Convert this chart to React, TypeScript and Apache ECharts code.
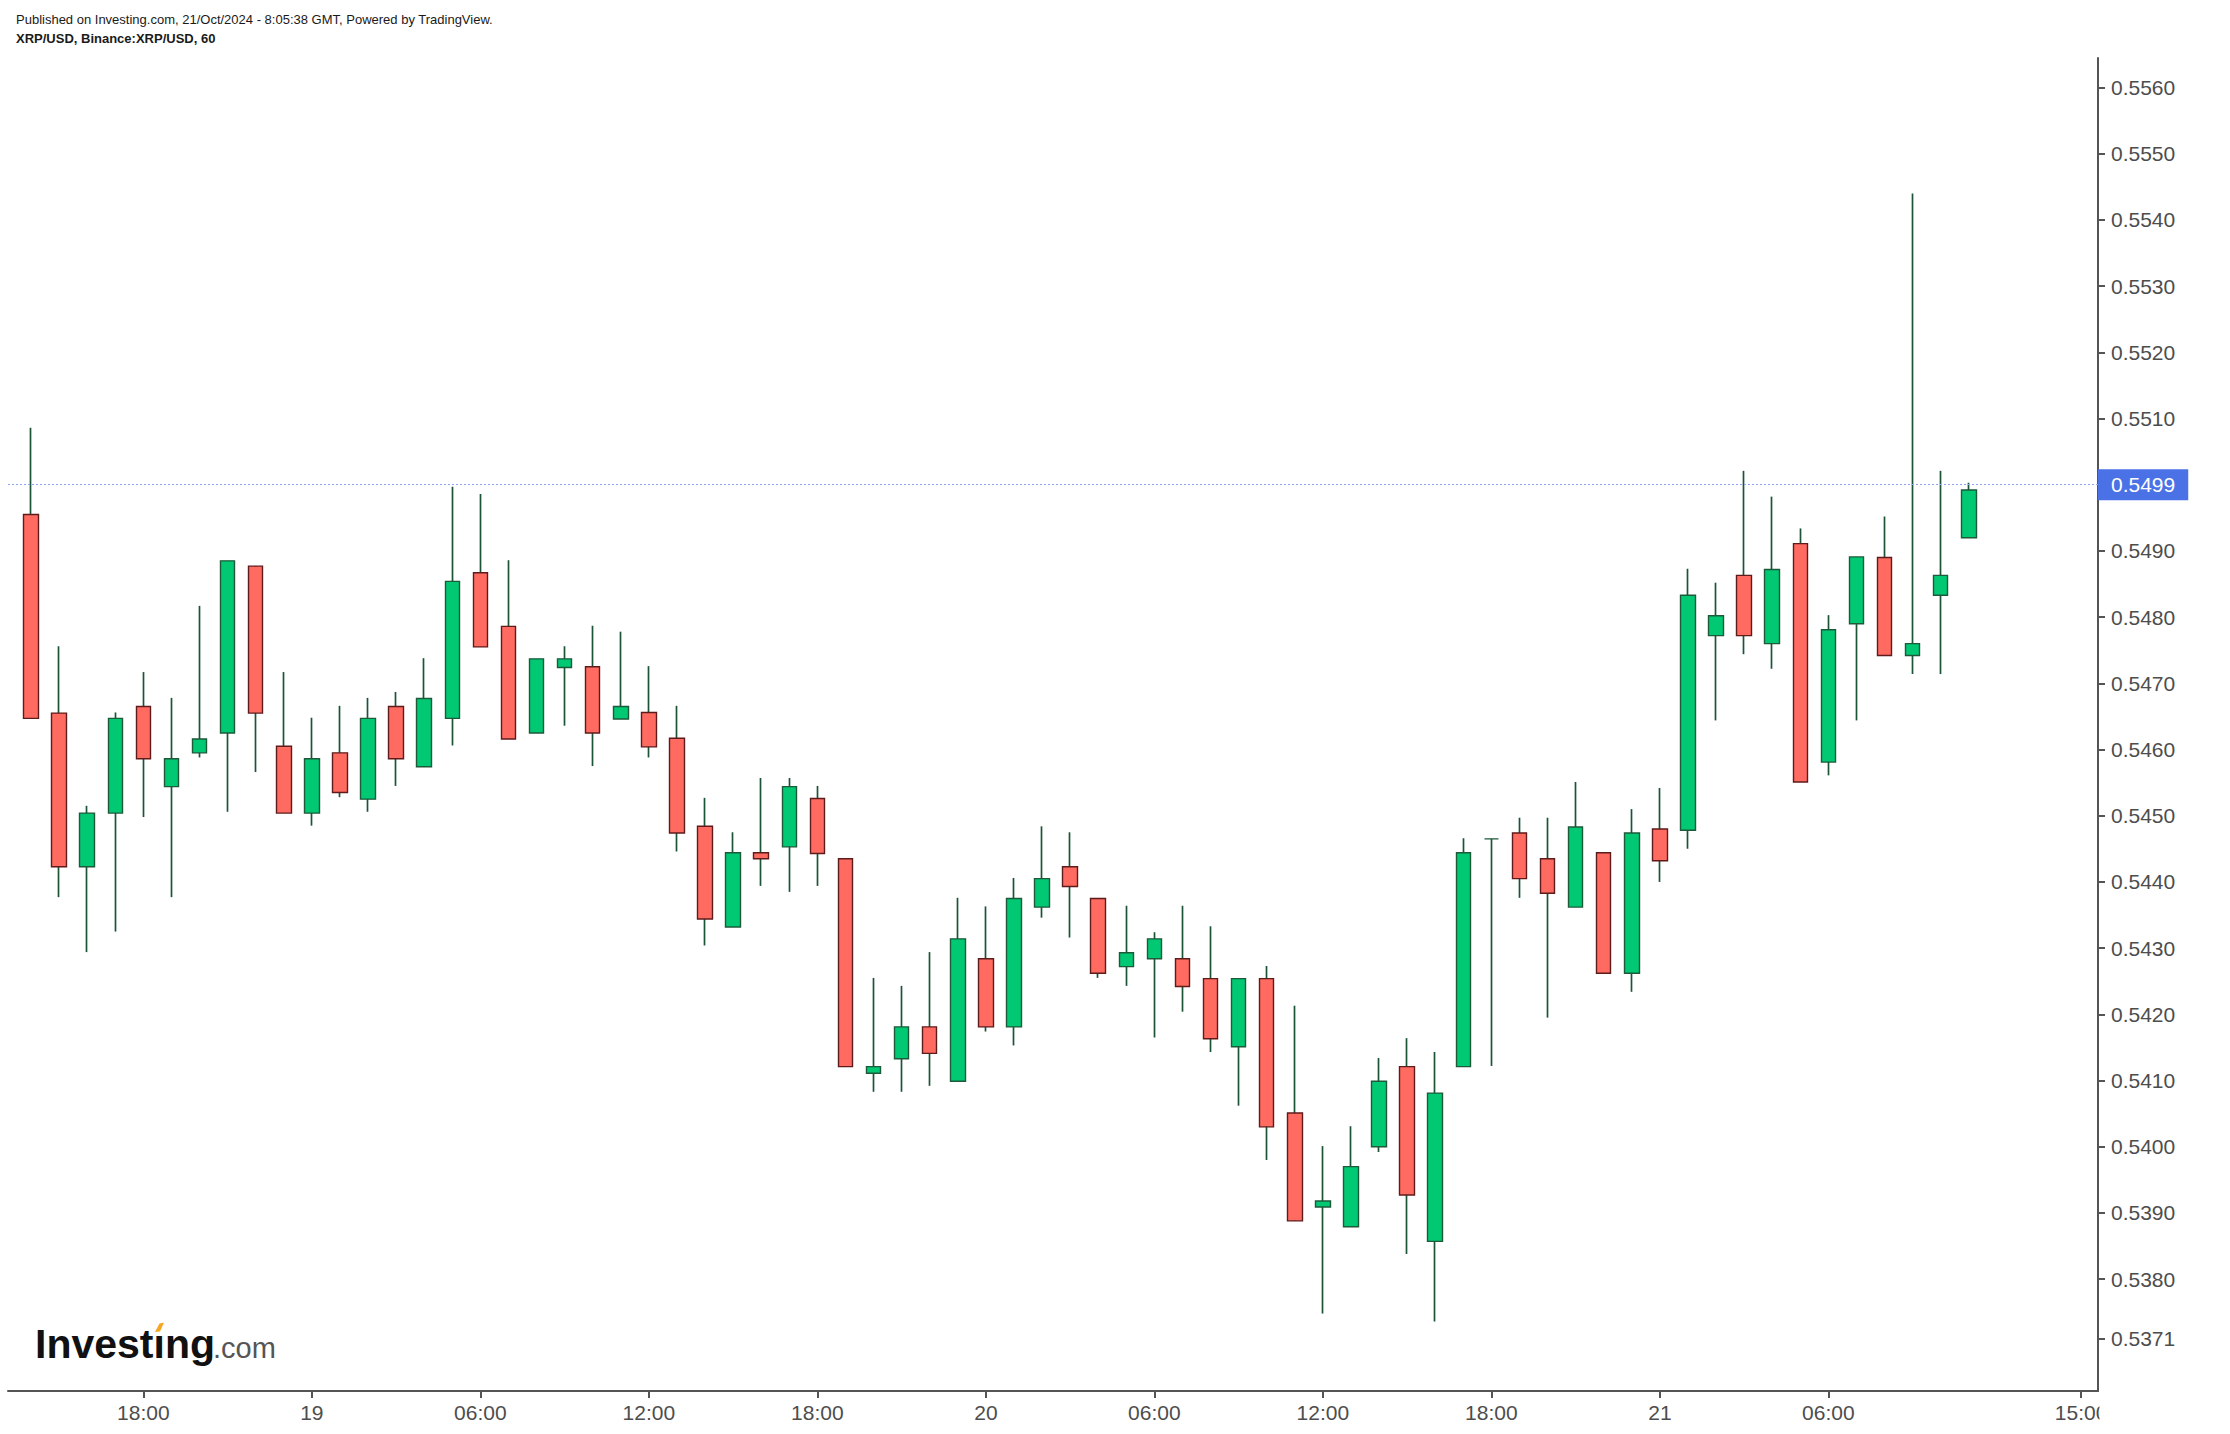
import React, { useEffect, useRef } from "react";
import * as echarts from "echarts";

// Hours counted from 18 Oct 2024 00:00 (chart time zone)
const hours = [
  14, 15, 16, 17, 18, 19, 20, 21, 22, 23, 24, 25, 26, 27, 28, 29, 30, 31, 32,
  33, 34, 35, 36, 37, 38, 39, 40, 41, 42, 43, 44, 45, 46, 47, 48, 49, 50, 51, 52,
  53, 54, 55, 56, 57, 58, 59, 60, 61, 62, 63, 64, 65, 66, 67, 68, 69, 70, 71, 72,
  73, 74, 75, 76, 77, 78, 79, 80, 81, 82, 83,
];
const opens = [
  0.54955, 0.54655, 0.54423, 0.54504, 0.54665, 0.54544, 0.54595, 0.54625, 0.54877,
  0.54605, 0.54504, 0.54595, 0.54525, 0.54665, 0.54574, 0.54647, 0.54867, 0.54786, 0.54625,
  0.54724, 0.54725, 0.54646, 0.54656, 0.54617, 0.54484, 0.54332, 0.54444, 0.54453, 0.54526,
  0.54435, 0.54111, 0.54133, 0.54181, 0.54099, 0.54284, 0.54181, 0.54362, 0.54423, 0.54375,
  0.54272, 0.54284, 0.54284, 0.54254, 0.54151, 0.54254, 0.54051, 0.53909, 0.53879, 0.54000,
  0.54121, 0.53857, 0.54121, 0.54465, 0.54474, 0.54435, 0.54362, 0.54444, 0.54262, 0.54480,
  0.54478, 0.54772, 0.54863, 0.54760, 0.54911, 0.54581, 0.54790, 0.54890, 0.54742, 0.54833,
  0.54920,
];
const closes = [
  0.54647, 0.54423, 0.54504, 0.54647, 0.54586, 0.54586, 0.54616, 0.54885, 0.54655,
  0.54504, 0.54586, 0.54535, 0.54647, 0.54586, 0.54677, 0.54854, 0.54755, 0.54616, 0.54737,
  0.54737, 0.54625, 0.54665, 0.54604, 0.54474, 0.54344, 0.54444, 0.54435, 0.54544, 0.54443,
  0.54121, 0.54121, 0.54181, 0.54141, 0.54314, 0.54181, 0.54375, 0.54405, 0.54393, 0.54262,
  0.54293, 0.54314, 0.54242, 0.54163, 0.54254, 0.54030, 0.53888, 0.53918, 0.53970, 0.54099,
  0.53927, 0.54081, 0.54444, 0.54465, 0.54405, 0.54383, 0.54483, 0.54262, 0.54474, 0.54432,
  0.54833, 0.54802, 0.54772, 0.54872, 0.54551, 0.54781, 0.54891, 0.54742, 0.54760, 0.54863,
  0.54992,
];
const lows = [
  0.54647, 0.54377, 0.54294, 0.54325, 0.54498, 0.54377, 0.54588, 0.54506, 0.54566,
  0.54504, 0.54485, 0.54528, 0.54506, 0.54545, 0.54574, 0.54606, 0.54755, 0.54616, 0.54625,
  0.54636, 0.54575, 0.54646, 0.54588, 0.54446, 0.54304, 0.54332, 0.54394, 0.54385, 0.54394,
  0.54121, 0.54083, 0.54083, 0.54092, 0.54099, 0.54174, 0.54153, 0.54346, 0.54316, 0.54255,
  0.54243, 0.54165, 0.54204, 0.54143, 0.54062, 0.53980, 0.53888, 0.53748, 0.53879, 0.53992,
  0.53838, 0.53736, 0.54121, 0.54122, 0.54376, 0.54195, 0.54362, 0.54262, 0.54234, 0.54400,
  0.54450, 0.54644, 0.54744, 0.54722, 0.54551, 0.54561, 0.54644, 0.54742, 0.54714, 0.54714,
  0.54920,
];
const highs = [
  0.55086, 0.54756, 0.54515, 0.54656, 0.54717, 0.54678, 0.54817, 0.54885, 0.54877,
  0.54717, 0.54648, 0.54666, 0.54678, 0.54687, 0.54738, 0.54997, 0.54986, 0.54886, 0.54737,
  0.54756, 0.54787, 0.54778, 0.54726, 0.54666, 0.54527, 0.54475, 0.54557, 0.54557, 0.54545,
  0.54435, 0.54255, 0.54243, 0.54294, 0.54376, 0.54363, 0.54406, 0.54484, 0.54475, 0.54375,
  0.54364, 0.54324, 0.54364, 0.54333, 0.54254, 0.54273, 0.54213, 0.54001, 0.54031, 0.54134,
  0.54164, 0.54143, 0.54466, 0.54465, 0.54497, 0.54497, 0.54551, 0.54444, 0.54510, 0.54542,
  0.54873, 0.54852, 0.55021, 0.54982, 0.54934, 0.54803, 0.54891, 0.54952, 0.55440, 0.55021,
  0.55003,
];

const xTickHours = [18, 24, 30, 36, 42, 48, 54, 60, 66, 72, 78, 87];
const yTickValues = [
  0.5371, 0.538, 0.539, 0.54, 0.541, 0.542, 0.543, 0.544, 0.545, 0.546, 0.547,
  0.548, 0.549, 0.55, 0.551, 0.552, 0.553, 0.554, 0.555, 0.556,
];
const lastPrice = 0.5499;
const headerLine1 =
  "Published on Investing.com, 21/Oct/2024 - 8:05:38 GMT, Powered by TradingView.";
const headerLine2 = "XRP/USD, Binance:XRP/USD, 60";
const logoMain = "Investing";
const logoSuffix = ".com";

const FONT = "'Liberation Sans', Arial, Helvetica, sans-serif";
const GREEN = "#00c873";
const GREEN_BORDER = "#1d5a3a";
const RED = "#ff6b61";
const RED_BORDER = "#5e1b1b";
const WICK = "#1b5536";
const AXIS = "#555555";
const LABEL = "#4d4d4d";

function xLabel(v: number): string {
  const h = Math.round(v);
  if (h % 24 === 0) return String(18 + h / 24);
  const hh = h % 24;
  return (hh < 10 ? "0" : "") + hh + ":00";
}

export default function App() {
  const ref = useRef<HTMLDivElement>(null);

  useEffect(() => {
    if (!ref.current) return;
    const chart = echarts.init(ref.current, null, { renderer: "svg" });

    const fullData = hours.map((h, i) => [h, opens[i], closes[i], lows[i], highs[i]]);
    const bodyData = hours.map((h, i) => [
      h,
      opens[i],
      closes[i],
      Math.min(opens[i], closes[i]),
      Math.max(opens[i], closes[i]),
    ]);

    const option: any = {
      animation: false,
      backgroundColor: "#ffffff",
      grid: { left: 8, right: 132, top: 58, bottom: 43, containLabel: false },
      xAxis: {
        type: "value",
        min: 13.18,
        max: 87.6,
        axisLine: { show: true, onZero: false, lineStyle: { color: AXIS, width: 2 } },
        axisTick: {
          show: true,
          length: 7,
          customValues: xTickHours,
          lineStyle: { color: AXIS, width: 2 },
        },
        axisLabel: {
          customValues: xTickHours,
          formatter: xLabel,
          color: LABEL,
          fontSize: 21,
          fontFamily: FONT,
          margin: 11,
        },
        splitLine: { show: false },
      },
      yAxis: {
        type: "value",
        position: "right",
        min: 0.53631,
        max: 0.556446,
        scale: true,
        axisLine: { show: true, onZero: false, lineStyle: { color: AXIS, width: 2 } },
        axisTick: {
          show: true,
          length: 7,
          customValues: yTickValues,
          lineStyle: { color: AXIS, width: 2 },
        },
        axisLabel: {
          customValues: yTickValues,
          formatter: (v: number) => v.toFixed(4),
          color: LABEL,
          fontSize: 21,
          fontFamily: FONT,
          margin: 13,
        },
        splitLine: { show: false },
      },
      series: [
        {
          type: "candlestick",
          name: "wicks",
          data: fullData,
          barWidth: 0.5,
          clip: true,
          silent: true,
          z: 2,
          itemStyle: {
            color: "rgba(0,0,0,0)",
            color0: "rgba(0,0,0,0)",
            borderColor: WICK,
            borderColor0: WICK,
            borderColorDoji: WICK,
            borderWidth: 1.7,
          },
        },
        {
          type: "candlestick",
          name: "bodies",
          data: bodyData,
          barWidth: 15,
          clip: true,
          silent: true,
          z: 3,
          itemStyle: {
            color: GREEN,
            color0: RED,
            borderColor: GREEN_BORDER,
            borderColor0: RED_BORDER,
            borderColorDoji: GREEN_BORDER,
            borderWidth: 1.4,
          },
          markLine: {
            silent: true,
            symbol: ["none", "none"],
            animation: false,
            data: [{ yAxis: lastPrice }],
            lineStyle: { color: "#8ea4f0", type: [2, 2], width: 1 },
            label: {
              show: true,
              position: "end",
              distance: 0,
              formatter: lastPrice.toFixed(4),
              color: "#ffffff",
              backgroundColor: "#4a72e6",
              padding: [5, 13, 5, 13],
              fontSize: 21,
              fontFamily: FONT,
            },
          },
        },
      ],
      graphic: [
        {
          type: "text",
          x: 16,
          y: 19,
          z: 100,
          style: {
            text: headerLine1,
            fill: "#1a1a1a",
            font: `13px ${FONT}`,
            verticalAlign: "middle",
          },
        },
        {
          type: "text",
          x: 16,
          y: 38,
          z: 100,
          style: {
            text: headerLine2,
            fill: "#1a1a1a",
            font: `bold 13px ${FONT}`,
            verticalAlign: "middle",
          },
        },
        {
          type: "text",
          x: 35,
          y: 1344,
          z: 100,
          style: {
            text: logoMain,
            fill: "#111111",
            font: `bold 41px ${FONT}`,
            verticalAlign: "middle",
          },
        },
        {
          type: "rect",
          z: 101,
          shape: { x: 155.5, y: 1326.5, width: 8, height: 9 },
          style: { fill: "#ffffff" },
        },
        {
          type: "polygon",
          z: 102,
          shape: {
            points: [
              [155, 1332],
              [159.5, 1323.5],
              [164, 1322.5],
              [160, 1331.5],
            ],
          },
          style: { fill: "#f5a623" },
        },
        {
          type: "text",
          x: 213,
          y: 1348,
          z: 100,
          style: {
            text: logoSuffix,
            fill: "#555555",
            font: `29px ${FONT}`,
            verticalAlign: "middle",
          },
        },
        {
          type: "rect",
          z: 101,
          shape: { x: 2099.5, y: 1393, width: 131, height: 41 },
          style: { fill: "#ffffff" },
        },
      ],
    };

    chart.setOption(option);
    return () => chart.dispose();
  }, []);

  return (
    <div
      ref={ref}
      style={{ position: "fixed", left: 0, top: 0, width: 2230, height: 1434, background: "#fff" }}
    />
  );
}
